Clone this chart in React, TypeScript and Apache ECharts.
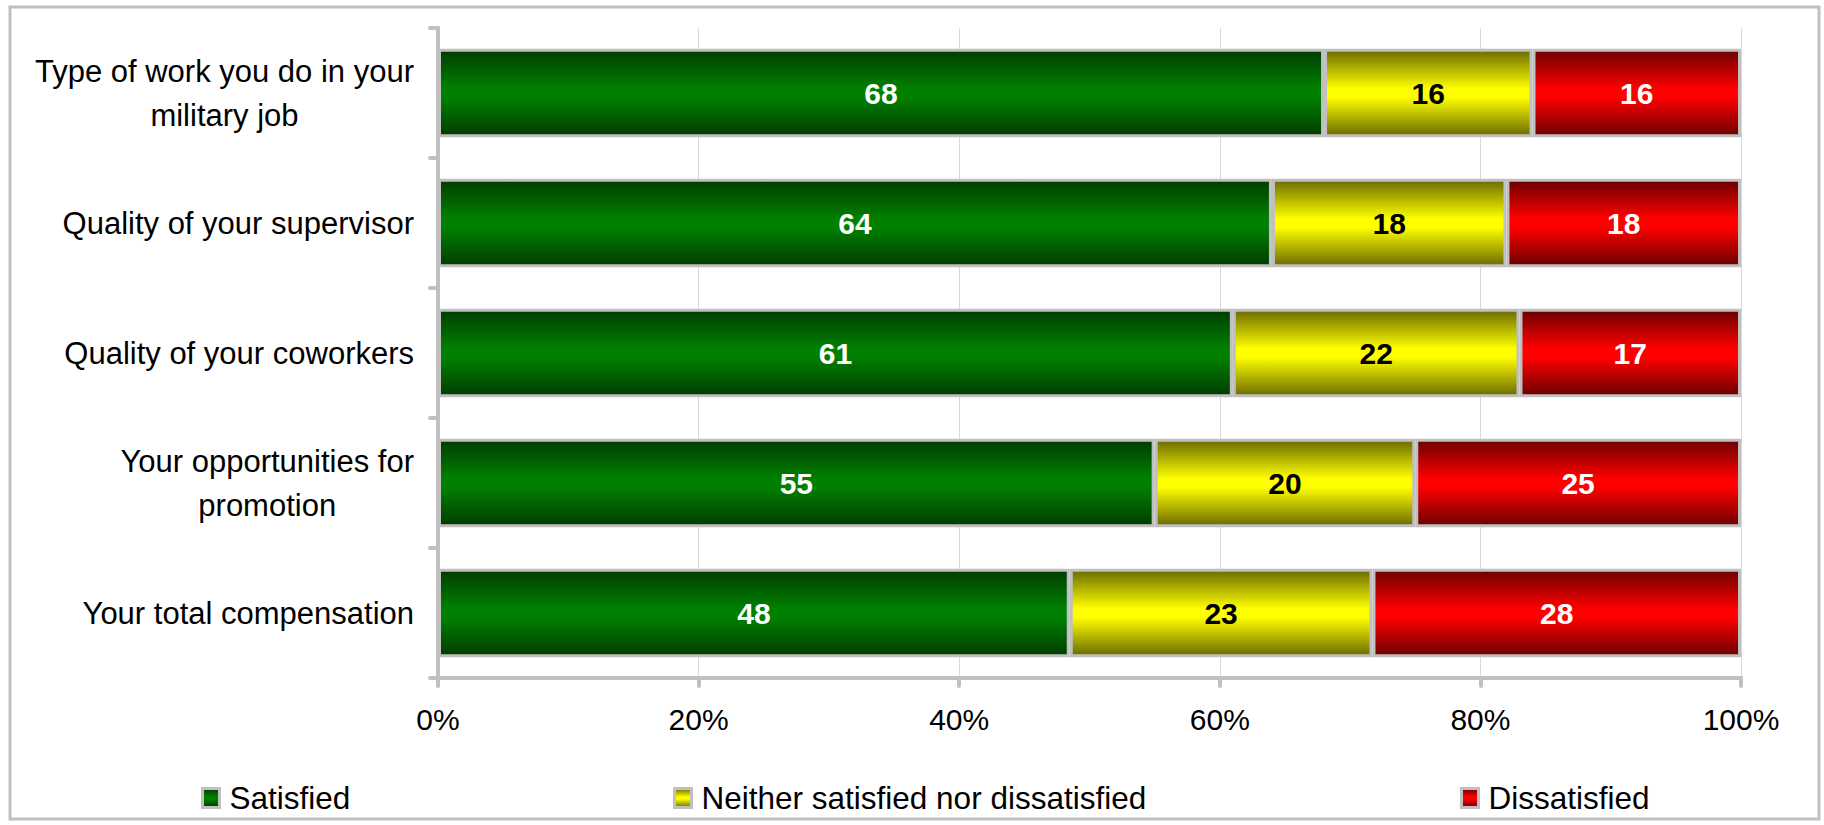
import React, { useEffect, useRef } from "react";
import * as echarts from "echarts";

const categories = [
  "Type of work you do in your\nmilitary job",
  "Quality of your supervisor",
  "Quality of your coworkers",
  "Your opportunities for\npromotion",
  "Your total compensation",
];
const satisfied = [68, 64, 61, 55, 48];
const neither = [16, 18, 22, 20, 23];
const dissatisfied = [16, 18, 17, 25, 28];
const seriesNames = ["Satisfied", "Neither satisfied nor dissatisfied", "Dissatisfied"];
const xTickStep = 20;

const FONT = "'Liberation Sans', Arial, sans-serif";
const GRAY = "#c0c0c0";

function grad(dark: string, bright: string) {
  return new echarts.graphic.LinearGradient(0, 0, 0, 1, [
    { offset: 0, color: dark },
    { offset: 0.45, color: bright },
    { offset: 0.55, color: bright },
    { offset: 1, color: dark },
  ]);
}

export default function App() {
  const ref = useRef<HTMLDivElement>(null);
  useEffect(() => {
    if (!ref.current) return;
    const chart = echarts.init(ref.current, undefined, { renderer: "svg" });
    const totals = satisfied.map((v, i) => v + neither[i] + dissatisfied[i]);
    const toData = (arr: number[]) =>
      arr.map((v, i) => ({ value: (v / totals[i]) * 100, raw: v }));
    const fills = [
      grad("#003c00", "#008000"),
      grad("#6b6b00", "#ffff00"),
      grad("#6b0000", "#ff0000"),
    ];
    const labelColors = ["#ffffff", "#000000", "#ffffff"];
    const raws = [satisfied, neither, dissatisfied];
    const series = raws.map((arr, k) => ({
      name: seriesNames[k],
      type: "bar",
      stack: "total",
      barWidth: "68%",
      data: toData(arr),
      itemStyle: { color: fills[k], borderColor: GRAY, borderWidth: 3 },
      label: {
        show: true,
        position: "inside",
        color: labelColors[k],
        fontFamily: FONT,
        fontWeight: "bold",
        fontSize: 30,
        formatter: (p: any) => String(p.data.raw),
      },
    }));
    const legendLefts = [196, 668, 1455];
    chart.setOption({
      animation: false,
      backgroundColor: "#ffffff",
      graphic: [
        {
          type: "rect",
          shape: { x: 10, y: 7, width: 1809, height: 812 },
          style: { fill: "none", stroke: GRAY, lineWidth: 3 },
          silent: true,
        },
      ],
      grid: { left: 438, right: 83, top: 28, bottom: 147, containLabel: false },
      legend: seriesNames.map((n, i) => ({
        data: [n],
        left: legendLefts[i],
        top: 777,
        icon: "rect",
        itemWidth: 17,
        itemHeight: 19,
        itemGap: 8,
        itemStyle: { borderColor: GRAY, borderWidth: 3 },
        textStyle: {
          fontFamily: FONT,
          fontSize: 31.5,
          color: "#000",
          padding: [0, 0, 0, 5],
        },
      })),
      xAxis: {
        type: "value",
        min: 0,
        max: 100,
        interval: xTickStep,
        axisLine: { show: true, lineStyle: { color: GRAY, width: 4, cap: "round" } },
        axisTick: { show: true, length: 8, lineStyle: { color: GRAY, width: 4, cap: "round" } },
        splitLine: { show: true, lineStyle: { color: "#d9d9d9", width: 1 } },
        axisLabel: {
          formatter: "{value}%",
          fontFamily: FONT,
          fontSize: 30,
          color: "#000",
          margin: 26,
        },
      },
      yAxis: {
        type: "category",
        inverse: true,
        data: categories,
        axisLine: { show: true, lineStyle: { color: GRAY, width: 4, cap: "round" } },
        axisTick: { show: true, length: 8, lineStyle: { color: GRAY, width: 4, cap: "round" } },
        splitLine: { show: false },
        axisLabel: {
          margin: 24,
          align: "right",
          formatter: (v: string) =>
            v
              .split("\n")
              .map((l) => `{c|${l}}`)
              .join("\n"),
          rich: {
            c: {
              align: "center",
              fontFamily: FONT,
              fontSize: 31,
              lineHeight: 44,
              color: "#000",
            },
          },
        },
      },
      series,
    });
    return () => chart.dispose();
  }, []);
  return (
    <div
      ref={ref}
      style={{ position: "fixed", left: 0, top: 0, width: 1824, height: 825 }}
    />
  );
}
